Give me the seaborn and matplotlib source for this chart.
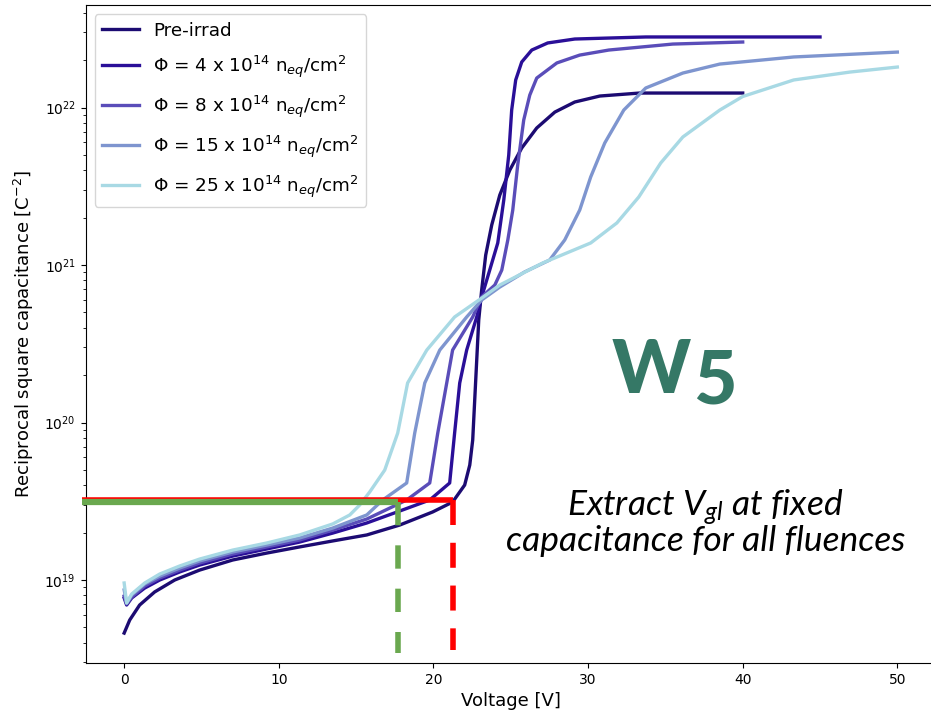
import numpy as np
import pandas as pd
import matplotlib
matplotlib.use("Agg")
import matplotlib.pyplot as plt
import seaborn as sns

# ---------------- data ----------------
labels = [
    "Pre-irrad",
    r"$\Phi$ = 4 x 10$^{14}$ n$_{eq}$/cm$^2$",
    r"$\Phi$ = 8 x 10$^{14}$ n$_{eq}$/cm$^2$",
    r"$\Phi$ = 15 x 10$^{14}$ n$_{eq}$/cm$^2$",
    r"$\Phi$ = 25 x 10$^{14}$ n$_{eq}$/cm$^2$",
]
colors = ["#1c0b72", "#2a0f98", "#5a4db9", "#7e95cf", "#a8d9e4"]

# voltage [V] and log10(1/C^2) for each curve
v_pre = [0.0, 0.36, 1.0, 1.97, 3.27, 4.88, 7.02, 9.22, 11.35, 13.49, 15.69, 17.82,
         19.95, 21.24, 22.02, 22.35, 22.54, 22.67, 22.80, 22.93, 23.12, 23.38, 23.77,
         24.29, 24.94, 25.71, 26.68, 27.85, 29.14, 30.76, 33.34, 37.23, 40.0]
logc_pre = [18.663, 18.746, 18.841, 18.924, 19.000, 19.063, 19.127, 19.171, 19.210,
            19.248, 19.286, 19.349, 19.432, 19.495, 19.603, 19.730, 19.889, 20.143,
            20.397, 20.651, 20.841, 21.063, 21.254, 21.444, 21.603, 21.743, 21.870,
            21.971, 22.035, 22.073, 22.092, 22.092, 22.092]

v_f4 = [0.0, 0.16, 0.49, 1.33, 2.30, 3.59, 4.88, 7.02, 9.22, 11.35, 13.49, 15.69,
        17.82, 19.76, 21.05, 21.37, 21.70, 22.15, 22.80, 23.12, 23.64, 24.16, 24.55,
        24.87, 25.06, 25.32, 25.71, 26.36, 27.39, 29.14, 33.73, 45.0]
logc_f4 = [18.886, 18.841, 18.886, 18.949, 19.000, 19.051, 19.095, 19.152, 19.197,
           19.241, 19.298, 19.362, 19.438, 19.508, 19.616, 19.933, 20.251, 20.460,
           20.670, 20.797, 20.968, 21.140, 21.413, 21.698, 21.984, 22.175, 22.289,
           22.365, 22.410, 22.435, 22.448, 22.448]

v_f8 = [0.0, 0.16, 0.49, 1.33, 2.30, 3.59, 4.88, 7.02, 9.22, 11.35, 13.49, 15.69,
        18.27, 19.76, 20.28, 20.86, 21.24, 22.54, 23.12, 23.97, 24.42, 24.81, 25.13,
        25.45, 25.84, 26.23, 26.68, 27.98, 29.46, 31.34, 35.48, 40.0]
logc_f8 = [18.898, 18.848, 18.892, 18.962, 19.013, 19.063, 19.108, 19.165, 19.210,
           19.254, 19.317, 19.387, 19.508, 19.616, 19.933, 20.251, 20.460, 20.670,
           20.797, 20.873, 20.968, 21.159, 21.349, 21.635, 21.921, 22.079, 22.187,
           22.283, 22.333, 22.365, 22.403, 22.416]

v_f15 = [0.0, 0.16, 0.49, 1.33, 2.30, 3.59, 4.88, 7.02, 9.22, 11.35, 13.49, 15.69,
         16.72, 18.27, 18.79, 19.44, 20.41, 22.15, 23.12, 24.29, 25.90, 27.52, 28.49,
         29.46, 30.17, 31.08, 32.31, 33.73, 36.13, 38.52, 43.30, 50.0]
logc_f15 = [18.937, 18.854, 18.905, 18.975, 19.025, 19.076, 19.121, 19.178, 19.222,
            19.267, 19.330, 19.413, 19.508, 19.616, 19.933, 20.251, 20.460, 20.670,
            20.778, 20.860, 20.956, 21.032, 21.159, 21.349, 21.559, 21.775, 21.984,
            22.124, 22.219, 22.276, 22.321, 22.352]

v_f25 = [0.0, 0.16, 0.49, 1.33, 2.30, 3.59, 4.88, 7.02, 9.22, 11.35, 13.49, 14.59,
         15.23, 15.88, 16.85, 17.69, 18.33, 19.57, 21.37, 23.12, 24.29, 27.07, 30.17,
         31.86, 33.28, 34.70, 36.13, 38.52, 40.0, 43.30, 46.92, 50.0]
logc_f25 = [18.981, 18.854, 18.911, 18.981, 19.038, 19.089, 19.133, 19.190, 19.235,
            19.286, 19.356, 19.413, 19.476, 19.559, 19.698, 19.933, 20.251, 20.460,
            20.670, 20.790, 20.873, 21.013, 21.140, 21.267, 21.432, 21.648, 21.813,
            21.984, 22.070, 22.175, 22.225, 22.257]

# extraction guide lines (V_gl at fixed capacitance)
v_gl_pre = 21.24
v_gl_irr = 17.69
logc_fixed_red = 19.508
logc_fixed_green = 19.495
v_guide_start = -2.75
logc_red_bottom = 18.556
logc_green_bottom = 18.537

# ---------------- build table ----------------
frames = []
for lab, v, lc in zip(labels,
                      [v_pre, v_f4, v_f8, v_f15, v_f25],
                      [logc_pre, logc_f4, logc_f8, logc_f15, logc_f25]):
    frames.append(pd.DataFrame({"Voltage": v,
                                "C2": 10.0 ** np.asarray(lc),
                                "series": lab}))
df = pd.concat(frames, ignore_index=True)

# ---------------- figure ----------------
plt.rcParams["mathtext.rm"] = "Lato:italic"
plt.rcParams["mathtext.it"] = "Lato:italic"

W, H = 931, 711
fig = plt.figure(figsize=(W / 100, H / 100), dpi=100)
ax = fig.add_axes([85.5 / W, 1 - 663 / H, (936 - 85.5) / W, (663 - 5) / H])

sns.lineplot(data=df, x="Voltage", y="C2", hue="series", hue_order=labels,
             palette=dict(zip(labels, colors)), estimator=None, sort=False,
             linewidth=2.4, ax=ax)

ax.set_yscale("log")
ax.set_xlim(-2.5, 52.5)
ax.set_ylim(10 ** 18.473, 10 ** 22.651)
ax.set_xticks([0, 10, 20, 30, 40, 50])
ax.tick_params(axis="both", which="major", labelsize=10)
ax.set_xlabel("Voltage [V]", fontsize=13)
ax.set_ylabel(r"Reciprocal square capacitance [C$^{-2}$]", fontsize=13, labelpad=6)

sns.move_legend(ax, "upper left", title=None, fontsize=13.2, frameon=True,
                labelspacing=0.75)

# guide lines
ax.plot([v_guide_start, v_gl_pre], [10 ** logc_fixed_red] * 2, color="#ff0000",
        lw=4, solid_capstyle="butt", clip_on=False, zorder=5)
ax.plot([v_gl_pre, v_gl_pre], [10 ** logc_fixed_red, 10 ** logc_red_bottom],
        color="#ff0000", lw=4, dashes=(4.5, 3.2), dash_capstyle="butt", zorder=5)
ax.plot([v_guide_start, v_gl_irr], [10 ** logc_fixed_green] * 2, color="#6aa84f",
        lw=4.5, solid_capstyle="butt", clip_on=False, zorder=6)
ax.plot([v_gl_irr, v_gl_irr], [10 ** logc_fixed_green, 10 ** logc_green_bottom],
        color="#6aa84f", lw=4, dashes=(4.2, 3.6), dash_capstyle="butt", zorder=6)

# annotations
fig.text(612 / W, 1 - 393 / H, "W", fontsize=54, family="Lato", weight="black",
         color="#357866", va="baseline", ha="left")
fig.text(693 / W, 1 - 404 / H, "5", fontsize=54, family="Lato", weight="black",
         color="#357866", va="baseline", ha="left")
fig.text(705 / W, 1 - 516 / H, r"Extract V$_{gl}$ at fixed", fontsize=25.5,
         family="Lato", style="italic", math_fontfamily="custom",
         ha="center", va="baseline", color="black")
fig.text(706 / W, 1 - 551 / H, "capacitance for all fluences", fontsize=25.5,
         family="Lato", style="italic", ha="center", va="baseline", color="black")

fig.savefig("out.png", dpi=100)
